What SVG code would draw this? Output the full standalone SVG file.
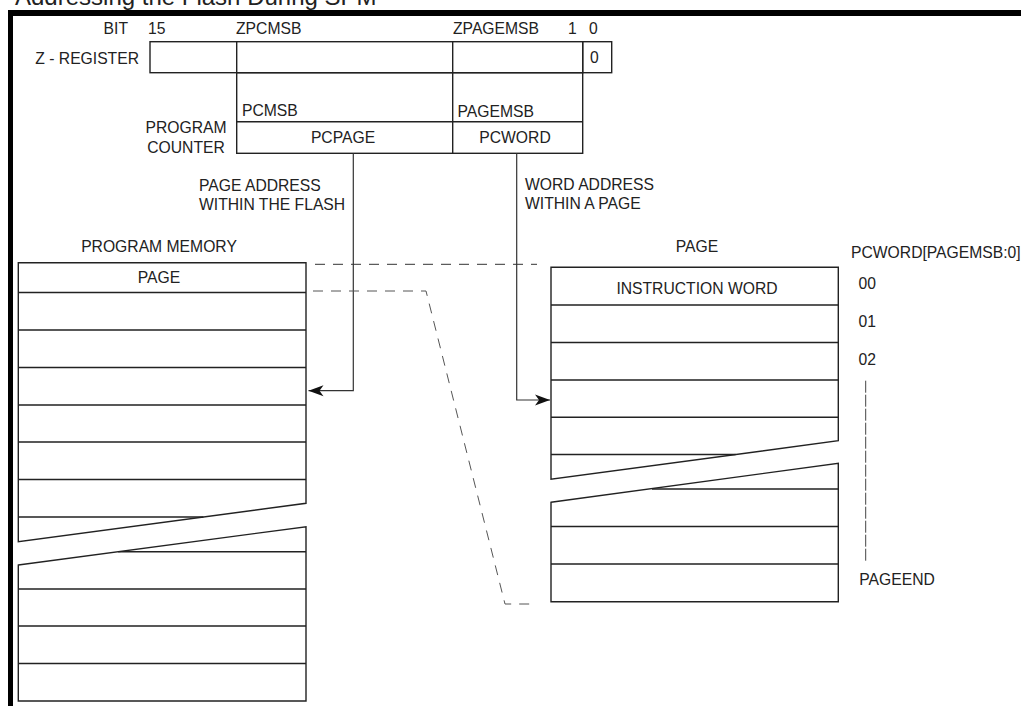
<svg xmlns="http://www.w3.org/2000/svg" width="1021" height="706" viewBox="0 0 1021 706">
<style>
text{font-family:"Liberation Sans",Arial,Helvetica,sans-serif;font-size:15.7px;fill:#222}
.t{font-size:24px}
.m{text-anchor:middle}
.box{fill:none;stroke:#222;stroke-width:1.4}
.ln{stroke:#222;stroke-width:1.4;fill:none}
.con{stroke:#333;stroke-width:1.2;fill:none}
.dash{stroke:#333;stroke-width:1;fill:none;stroke-dasharray:10 8}
.dash2{stroke:#555;stroke-width:1;fill:none;stroke-dasharray:10 8}
.vd{stroke:#444;stroke-width:1;fill:none;stroke-dasharray:12 2}
</style>
<defs>
<marker id="ah" markerUnits="userSpaceOnUse" markerWidth="16" markerHeight="12" refX="15" refY="6" orient="auto">
<path d="M0,0.5 L15,6 L0,11.5 L4,6 z" fill="#111"/>
</marker>
</defs>
<rect width="1021" height="706" fill="#fff"/>
<text class="t" x="15" y="5">Addressing the Flash During SPM</text>
<rect x="8" y="10" width="1013" height="6" fill="#000"/>
<rect x="8" y="10" width="5" height="696" fill="#000"/>

<g id="z-register">
<text x="128" y="34" style="text-anchor:end">BIT</text>
<text x="148" y="34">15</text>
<text x="236" y="34">ZPCMSB</text>
<text x="453" y="34">ZPAGEMSB</text>
<text x="568" y="34">1</text>
<text x="589" y="34">0</text>
<text x="139" y="64" style="text-anchor:end">Z - REGISTER</text>
<rect class="box" x="150" y="41.7" width="432.7" height="31"/>
<line class="ln" x1="236.7" y1="41.7" x2="236.7" y2="72.7"/>
<rect class="box" x="582.7" y="41.7" width="29" height="31"/>
<text x="590" y="63">0</text>
</g>

<g id="program-counter">
<rect class="box" x="236.7" y="72.7" width="346" height="80.6"/>
<line class="ln" x1="236.7" y1="121.7" x2="582.7" y2="121.7"/>
<line class="ln" x1="452.7" y1="41.7" x2="452.7" y2="153.3"/>
<text x="242" y="116">PCMSB</text>
<text x="457.5" y="117">PAGEMSB</text>
<text class="m" x="343" y="143">PCPAGE</text>
<text class="m" x="515" y="143">PCWORD</text>
<text class="m" x="186" y="133">PROGRAM</text>
<text class="m" x="186" y="153">COUNTER</text>
</g>

<g id="labels">
<text x="199" y="191">PAGE ADDRESS</text>
<text x="199" y="209.5">WITHIN THE FLASH</text>
<text x="525" y="189.5">WORD ADDRESS</text>
<text x="525" y="208.5">WITHIN A PAGE</text>
<text class="m" x="159" y="251.7">PROGRAM MEMORY</text>
<text class="m" x="697" y="251.7">PAGE</text>
<text x="851" y="257.7">PCWORD[PAGEMSB:0]</text>
<text x="858.5" y="288.5">00</text>
<text x="858.5" y="326.7">01</text>
<text x="858.5" y="365">02</text>
<line class="vd" x1="865.7" y1="380.7" x2="865.7" y2="562.3"/>
<text x="859.3" y="585">PAGEEND</text>
</g>

<g id="program-memory">
<path class="ln" d="M18.3,262.7 H306 V503.3 L18.3,541.7 Z"/>
<path class="ln" d="M18.3,292.5 H306 M18.3,330 H306 M18.3,367.5 H306 M18.3,405 H306 M18.3,442 H306 M18.3,479.5 H306 M18.3,517 H203.4"/>
<path class="ln" d="M18.3,565 L306,526.7 V701 H18.3 Z"/>
<path class="ln" d="M118.2,551.7 H306 M18.3,589 H306 M18.3,626 H306 M18.3,663.5 H306"/>
<text class="m" x="159" y="283.3">PAGE</text>
</g>

<g id="page">
<path class="ln" d="M551,267.3 H838.3 V440.7 L551,479.3 Z"/>
<path class="ln" d="M551,305 H838.3 M551,342.5 H838.3 M551,380 H838.3 M551,417.3 H838.3 M551,454.5 H735.6"/>
<path class="ln" d="M551,502.3 L838.3,463.3 V601.7 H551 Z"/>
<path class="ln" d="M652,489 H838.3 M551,526.5 H838.3 M551,564 H838.3"/>
<text class="m" x="697" y="294">INSTRUCTION WORD</text>
</g>

<g id="connectors">
<polyline class="con" points="353.3,153.3 353.3,390.7 308.5,390.7" marker-end="url(#ah)"/>
<polyline class="con" points="516.7,153.3 516.7,400 550,400" marker-end="url(#ah)"/>
<line class="dash" x1="315" y1="264.3" x2="537" y2="264.3"/>
<polyline class="dash2" points="313,291 426,291 505,604 537,604"/>
</g>
</svg>
